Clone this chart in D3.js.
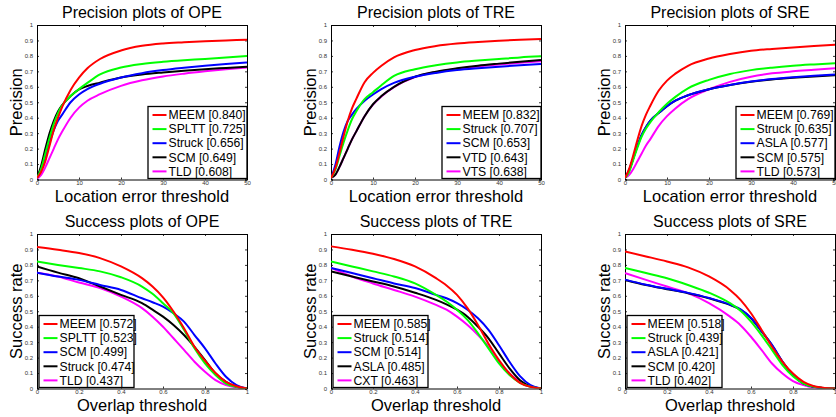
<!DOCTYPE html>
<html><head><meta charset="utf-8">
<script src="https://cdn.jsdelivr.net/npm/d3@7"></script>
<style>html,body{margin:0;padding:0;background:#fff;}svg{display:block;font-family:"Liberation Sans",Arial,sans-serif;}</style>
</head><body>
<svg id="c" width="836" height="417"></svg>
<script>
// ---------- data ----------
const precThresholds = [0,1,2,3,4,5,6,8,10,12,15,20,25,30,35,40,45,50];
const succThresholds = [0,0.1,0.2,0.3,0.4,0.5,0.55,0.6,0.65,0.7,0.75,0.8,0.85,0.9,0.95,1];
const precTicksX = [0,10,20,30,40,50];
const succTicksX = [0,0.2,0.4,0.6,0.8,1];
const ticksY = [0,0.1,0.2,0.3,0.4,0.5,0.6,0.7,0.8,0.9,1];
const seriesColors = ["#ff0000","#00ff00","#0000ff","#000000","#ff00ff"];

const titles = ["Precision plots of OPE","Precision plots of TRE","Precision plots of SRE",
                "Success plots of OPE","Success plots of TRE","Success plots of SRE"];

// Precision OPE
const precOPENames = ["MEEM [0.840]","SPLTT [0.725]","Struck [0.656]","SCM [0.649]","TLD [0.608]"];
const precOPE = [
  [0.01,0.05,0.12,0.22,0.32,0.40,0.47,0.58,0.66,0.72,0.78,0.835,0.865,0.88,0.888,0.895,0.900,0.905],
  [0.01,0.07,0.17,0.27,0.36,0.43,0.48,0.54,0.585,0.625,0.68,0.725,0.748,0.762,0.772,0.78,0.79,0.80],
  [0.01,0.06,0.15,0.24,0.32,0.38,0.42,0.50,0.55,0.585,0.62,0.66,0.688,0.708,0.723,0.736,0.747,0.757],
  [0.01,0.09,0.20,0.30,0.38,0.44,0.482,0.54,0.583,0.605,0.627,0.66,0.68,0.693,0.704,0.714,0.722,0.73],
  [0.005,0.03,0.08,0.14,0.20,0.26,0.31,0.40,0.465,0.51,0.552,0.606,0.642,0.667,0.685,0.70,0.713,0.725]
];
// Precision TRE
const precTRENames = ["MEEM [0.832]","Struck [0.707]","SCM [0.653]","VTD [0.643]","VTS [0.638]"];
const precTRE = [
  [0.01,0.07,0.17,0.28,0.38,0.46,0.52,0.63,0.69,0.736,0.79,0.838,0.864,0.88,0.89,0.898,0.905,0.91],
  [0.01,0.06,0.15,0.24,0.32,0.39,0.44,0.52,0.565,0.61,0.67,0.714,0.74,0.758,0.77,0.78,0.79,0.797],
  [0.01,0.09,0.21,0.31,0.38,0.42,0.455,0.51,0.55,0.585,0.625,0.665,0.69,0.708,0.72,0.73,0.739,0.747],
  [0.01,0.03,0.08,0.14,0.20,0.26,0.31,0.41,0.487,0.54,0.60,0.665,0.698,0.72,0.737,0.75,0.762,0.773],
  [0.01,0.03,0.08,0.14,0.20,0.26,0.31,0.41,0.485,0.538,0.598,0.663,0.695,0.716,0.732,0.745,0.756,0.766]
];
// Precision SRE
const precSRENames = ["MEEM [0.769]","Struck [0.635]","ASLA [0.577]","SCM [0.575]","TLD [0.573]"];
const precSRE = [
  [0.01,0.07,0.16,0.26,0.35,0.42,0.476,0.574,0.64,0.685,0.736,0.783,0.812,0.833,0.845,0.855,0.864,0.872],
  [0.01,0.05,0.13,0.21,0.28,0.33,0.37,0.435,0.49,0.535,0.59,0.645,0.683,0.708,0.724,0.736,0.745,0.753],
  [0.01,0.06,0.14,0.22,0.29,0.34,0.38,0.43,0.475,0.51,0.545,0.584,0.612,0.634,0.65,0.662,0.672,0.68],
  [0.01,0.06,0.14,0.22,0.29,0.34,0.38,0.43,0.475,0.51,0.545,0.584,0.611,0.632,0.647,0.658,0.667,0.675],
  [0.01,0.03,0.07,0.12,0.17,0.22,0.26,0.346,0.41,0.46,0.52,0.584,0.632,0.665,0.687,0.70,0.71,0.72]
];
// Success OPE
const succOPENames = ["MEEM [0.572]","SPLTT [0.523]","SCM [0.499]","Struck [0.474]","TLD [0.437]"];
const succOPE = [
  [0.916,0.898,0.877,0.844,0.79,0.714,0.66,0.59,0.498,0.39,0.27,0.18,0.10,0.043,0.015,0],
  [0.822,0.80,0.78,0.758,0.72,0.66,0.613,0.552,0.487,0.38,0.26,0.162,0.087,0.032,0.01,0],
  [0.75,0.725,0.703,0.67,0.638,0.584,0.558,0.53,0.487,0.433,0.346,0.26,0.162,0.076,0.022,0],
  [0.79,0.75,0.714,0.66,0.606,0.552,0.51,0.465,0.411,0.346,0.27,0.184,0.097,0.043,0.011,0],
  [0.75,0.725,0.686,0.65,0.595,0.52,0.465,0.40,0.325,0.25,0.173,0.108,0.054,0.022,0.006,0]
];
// Success TRE
const succTRENames = ["MEEM [0.585]","Struck [0.514]","SCM [0.514]","ASLA [0.485]","CXT [0.463]"];
const succTRE = [
  [0.92,0.898,0.872,0.838,0.79,0.714,0.667,0.606,0.52,0.411,0.29,0.184,0.097,0.037,0.011,0],
  [0.822,0.79,0.758,0.725,0.68,0.606,0.563,0.51,0.444,0.357,0.26,0.162,0.087,0.037,0.011,0],
  [0.78,0.747,0.714,0.68,0.65,0.606,0.584,0.552,0.51,0.455,0.38,0.28,0.173,0.08,0.022,0],
  [0.758,0.725,0.693,0.66,0.62,0.574,0.545,0.51,0.465,0.40,0.325,0.227,0.13,0.054,0.015,0],
  [0.78,0.725,0.68,0.638,0.595,0.541,0.51,0.465,0.411,0.346,0.27,0.173,0.097,0.043,0.011,0]
];
// Success SRE
const succSRENames = ["MEEM [0.518]","Struck [0.439]","ASLA [0.421]","SCM [0.420]","TLD [0.402]"];
const succSRE = [
  [0.887,0.855,0.822,0.784,0.725,0.638,0.574,0.487,0.38,0.27,0.173,0.097,0.043,0.015,0.004,0],
  [0.78,0.747,0.714,0.67,0.62,0.552,0.504,0.433,0.346,0.25,0.152,0.08,0.032,0.011,0.002,0],
  [0.705,0.672,0.645,0.619,0.586,0.543,0.512,0.457,0.372,0.282,0.175,0.088,0.033,0.011,0.002,0],
  [0.703,0.67,0.643,0.617,0.584,0.541,0.51,0.455,0.37,0.28,0.173,0.087,0.032,0.011,0.002,0],
  [0.747,0.703,0.66,0.617,0.552,0.465,0.41,0.335,0.25,0.162,0.097,0.048,0.022,0.006,0.002,0]
];

// ---------- layout ----------
const svg = d3.select("#c");
const cols = [[37,247],[331,541],[625,835]];
const rows = [[25,179.5],[234,388.5]];

const panels = [
  {title:titles[0], xs:precThresholds, data:precOPE, names:precOPENames, dom:[0,50], ticks:precTicksX, fmt:d3.format("d"), xl:"Location error threshold", yl:"Precision", c:0, r:0, legend:"br"},
  {title:titles[1], xs:precThresholds, data:precTRE, names:precTRENames, dom:[0,50], ticks:precTicksX, fmt:d3.format("d"), xl:"Location error threshold", yl:"Precision", c:1, r:0, legend:"br"},
  {title:titles[2], xs:precThresholds, data:precSRE, names:precSRENames, dom:[0,50], ticks:precTicksX, fmt:d3.format("d"), xl:"Location error threshold", yl:"Precision", c:2, r:0, legend:"br"},
  {title:titles[3], xs:succThresholds, data:succOPE, names:succOPENames, dom:[0,1], ticks:succTicksX, fmt:d=>String(d), xl:"Overlap threshold", yl:"Success rate", c:0, r:1, legend:"bl"},
  {title:titles[4], xs:succThresholds, data:succTRE, names:succTRENames, dom:[0,1], ticks:succTicksX, fmt:d=>String(d), xl:"Overlap threshold", yl:"Success rate", c:1, r:1, legend:"bl"},
  {title:titles[5], xs:succThresholds, data:succSRE, names:succSRENames, dom:[0,1], ticks:succTicksX, fmt:d=>String(d), xl:"Overlap threshold", yl:"Success rate", c:2, r:1, legend:"bl"}
];

panels.forEach(p => {
  const [x0,x1] = cols[p.c], [y0,y1] = rows[p.r];
  const x = d3.scaleLinear().domain(p.dom).range([x0,x1]);
  const y = d3.scaleLinear().domain([0,1]).range([y1,y0]);
  const g = svg.append("g");

  const cid = "clip"+p.c+p.r;
  g.append("clipPath").attr("id",cid).append("rect").attr("x",x0).attr("y",y0).attr("width",x1-x0).attr("height",y1-y0);

  // axes (ticks inside, MATLAB style)
  const tl = 2;
  const axB = d3.axisBottom(x).tickValues(p.ticks).tickFormat(p.fmt).tickSize(-tl).tickPadding(1.5);
  const axL = d3.axisLeft(y).tickValues(ticksY).tickFormat(d=>String(d)).tickSize(-tl).tickPadding(4);
  const axT = d3.axisTop(x).tickValues(p.ticks).tickFormat("").tickSize(-tl);
  const axR = d3.axisRight(y).tickValues(ticksY).tickFormat("").tickSize(-tl);
  const gb = g.append("g").attr("transform",`translate(0,${y1})`).call(axB);
  const gl = g.append("g").attr("transform",`translate(${x0},0)`).call(axL);
  const gt = g.append("g").attr("transform",`translate(0,${y0})`).call(axT);
  const gr = g.append("g").attr("transform",`translate(${x1},0)`).call(axR);
  [gb,gl,gt,gr].forEach(a=>{
    a.select(".domain").attr("stroke","#000").attr("stroke-width",1);
    a.selectAll(".tick line").attr("stroke","#000").attr("stroke-width",0.8);
    a.selectAll("text").attr("font-size",6).attr("fill","#333").attr("font-family","Liberation Sans, Arial, sans-serif");
  });

  // curves
  const line = d3.line().x((d,i)=>x(p.xs[i])).y(d=>y(d)).curve(d3.curveMonotoneX);
  const order = [4,3,2,1,0];
  g.append("g").attr("clip-path",`url(#${cid})`).selectAll("path").data(order).join("path")
    .attr("d",k=>line(p.data[k])).attr("fill","none")
    .attr("stroke",k=>seriesColors[k]).attr("stroke-width",2);

  // title, labels
  g.append("text").attr("x",(x0+x1)/2).attr("y",y0-7).attr("text-anchor","middle")
    .attr("font-size",16).attr("fill","#000").text(p.title);
  g.append("text").attr("x",(x0+x1)/2).attr("y",y1+22.5).attr("text-anchor","middle")
    .attr("font-size",16.5).attr("fill","#000").text(p.xl);
  g.append("text").attr("transform",`translate(${x0-15},${(y0+y1)/2}) rotate(-90)`).attr("text-anchor","middle")
    .attr("font-size",16.5).attr("fill","#000").text(p.yl);

  // legend
  const lw = p.legend==="br" ? 99 : 95, lh = 72;
  const lx = p.legend==="br" ? x1-lw : x0+2;
  const ly = y1-lh-1;
  const lg = g.append("g");
  lg.append("rect").attr("x",lx).attr("y",ly).attr("width",lw).attr("height",lh)
    .attr("fill","#fff").attr("stroke","#000").attr("stroke-width",1.3);
  p.names.forEach((n,i)=>{
    const cy = ly + 8.5 + i*14.1;
    lg.append("line").attr("x1",lx+4.5).attr("x2",lx+18.5).attr("y1",cy).attr("y2",cy)
      .attr("stroke",seriesColors[i]).attr("stroke-width",2);
    lg.append("text").attr("x",lx+20.5).attr("y",cy+4.2).attr("font-size",12.2).attr("fill","#000").text(n);
  });
});
</script>
</body></html>
